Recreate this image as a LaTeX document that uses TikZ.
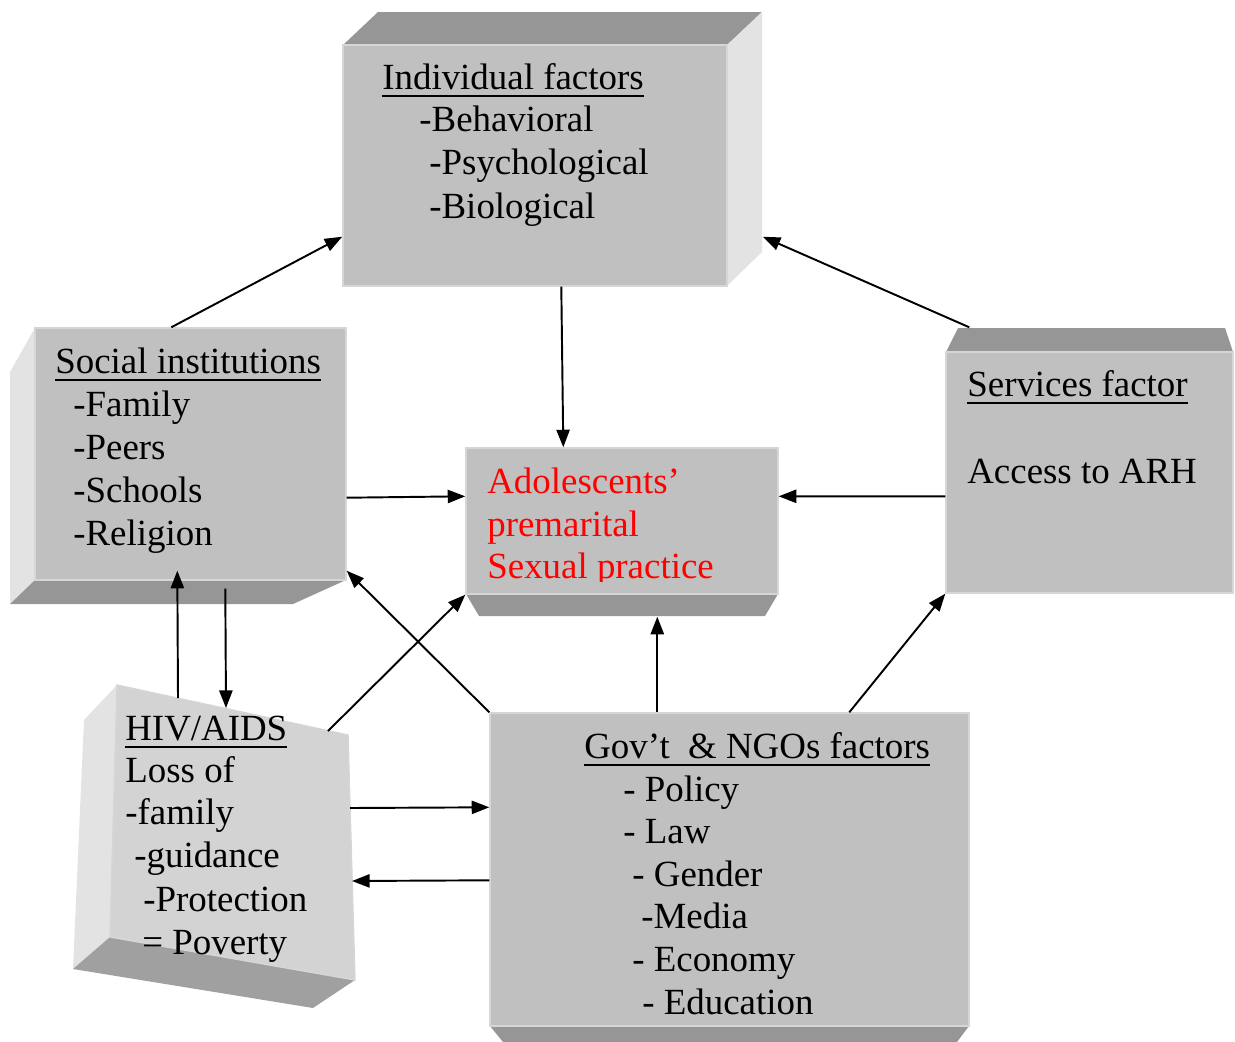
\documentclass[tikz,border=0pt]{standalone}
\usepackage{fontspec}
\setmainfont{Liberation Serif}
\usetikzlibrary{arrows.meta,fit,calc}
\definecolor{frontc}{HTML}{C0C0C0}
\definecolor{topc}{HTML}{969696}
\definecolor{sidec}{HTML}{E3E3E3}
\definecolor{hivfront}{HTML}{D3D3D3}
\definecolor{hivbot}{HTML}{A0A0A0}
\definecolor{edgec}{HTML}{D6D6D6}
\newcommand{\myul}[1]{\setbox0\hbox{#1}\rlap{\rule[-4.5pt]{\wd0}{1.1pt}}\box0}
\begin{document}
\begin{tikzpicture}[x=0.02cm,y=-0.02cm,
  txt/.style={anchor=base west, inner sep=0pt, font=\fontsize{21}{25}\selectfont},
  redtxt/.style={txt, text=red},
  arr/.style={line width=1.1pt, -{Triangle[length=10pt,width=7.5pt]}},
  frontface/.style={inner sep=0pt, fill=frontc, draw=edgec, line width=0.8pt},
  topface/.style={fill=topc},
  sideface/.style={fill=sidec}]
\useasboundingbox (0,0) rectangle (1235,1042);

% ---------- Individual factors box
\fill[topface] (343,45) -- (378,12) -- (762,12) -- (727,45) -- cycle;
\fill[sideface] (727,45) -- (762,12) -- (762,252) -- (727,286) -- cycle;
\path (343,45) coordinate (indA) (727,286) coordinate (indB);
\node[frontface, fit=(indA)(indB)] (ind) {};

% ---------- Social institutions box
\fill[sideface] (35,328) -- (10,372) -- (10,604) -- (35,580) -- cycle;
\fill[topface] (35,580) -- (346,580) -- (293,604) -- (10,604) -- cycle;
\path (35,328) coordinate (socA) (346,580) coordinate (socB);
\node[frontface, fit=(socA)(socB)] (soc) {};

% ---------- Services factor box
\fill[topface] (946,352) -- (958,328) -- (1225,328) -- (1233,352) -- cycle;
\path (946,352) coordinate (srvA) (1233,593) coordinate (srvB);
\node[frontface, fit=(srvA)(srvB)] (srv) {};

% ---------- Adolescents box
\fill[topface] (466,594) -- (479,616) -- (765,616) -- (778,594) -- cycle;
\path (466,448) coordinate (adoA) (778,594) coordinate (adoB);
\node[frontface, fit=(adoA)(adoB)] (ado) {};

% ---------- Gov't box
\fill[topface] (490,1026) -- (503,1042) -- (957,1042) -- (969,1026) -- cycle;
\path (490,713) coordinate (govA) (969,1026) coordinate (govB);
\node[frontface, fit=(govA)(govB)] (gov) {};

% ---------- HIV/AIDS box (skewed)
\fill[sideface] (117,685) -- (84,720) -- (73,969) -- (110,937) -- cycle;
\fill[hivbot] (110,937) -- (355,980) -- (313,1008) -- (73,969) -- cycle;
\fill[hivfront, draw=edgec, line width=0.8pt] (117,685) -- (348,735) -- (355,980) -- (110,937) -- cycle;
\coordinate (h1) at (178,698);
\coordinate (h2) at (226,708);
\coordinate (h3) at (328,731);
\coordinate (h4) at (350,808);
\coordinate (h5) at (352,881);

% ---------- Texts
\node[txt] (i1) at (382,89) {\myul{Individual factors}};
\node[txt] (i2) at (419,131) {-Behavioral};
\node[txt] (i3) at (429,174) {-Psychological};
\node[txt] (i4) at (429,218) {-Biological};

\node[txt] (s1) at (55,373) {\myul{Social institutions}};
\node[txt] (s2) at (73,416) {-Family};
\node[txt] (s3) at (73,459) {-Peers};
\node[txt] (s4) at (73,502) {-Schools};
\node[txt] (s5) at (73,545) {-Religion};

\node[txt] (v1) at (967,396) {\myul{Services factor}};
\node[txt] (v2) at (967,483) {Access to ARH};

\begin{scope}
\clip (466,448) rectangle (778,581);
\node[redtxt] (a1) at (487,493) {Adolescents’};
\node[redtxt] (a2) at (487,536) {premarital};
\node[redtxt] (a3) at (487,578) {Sexual practice};
\end{scope}

\node[txt] (x1) at (125,740) {\myul{HIV/AIDS}};
\node[txt] (x2) at (125,782) {Loss of};
\node[txt] (x3) at (125,824) {-family};
\node[txt] (x4) at (134,867) {-guidance};
\node[txt] (x5) at (143,911) {-Protection};
\node[txt] (x6) at (142,954) {= Poverty};

\node[txt] (g1) at (584,758) {\myul{Gov’t\ \ \& NGOs factors}};
\node[txt] (g2) at (623,801) {- Policy};
\node[txt] (g3) at (623,843) {- Law};
\node[txt] (g4) at (632,886) {- Gender};
\node[txt] (g5) at (641,928) {-Media};
\node[txt] (g6) at (632,971) {- Economy};
\node[txt] (g7) at (642,1014) {- Education};

% ---------- Arrows
\draw[arr] ($(soc.north west)+(137,0)$) -- ($(ind.south west)+(0,-50)$);
\draw[arr] ($(srv.north west)+(24,-24)$) -- ($(ind.south east)+(35,-50)$);
\draw[arr] ($(ind.south west)+(219,0)$) -- ($(ado.north west)+(98,0)$);
\draw[arr] ($(soc.south east)+(0,-83)$) -- ($(ado.north west)+(0,49)$);
\draw[arr] ($(srv.north west)+(0,145)$) -- ($(ado.north east)+(0,49)$);
\draw[arr] ($(gov.north west)+(168,0)$) -- ($(ado.south west)+(192,22)$);
\draw[arr] (h3) -- (ado.south west);
\draw[arr] (gov.north west) -- ($(soc.south east)+(0,-10)$);
\draw[arr] ($(gov.north west)+(360,0)$) -- (srv.south west);
\draw[arr] (h1) -- ($(soc.south west)+(143,-10)$);
\draw[arr] ($(soc.south west)+(191,8)$) -- (h2);
\draw[arr] (h4) -- ($(gov.north west)+(0,95)$);
\draw[arr] ($(gov.north west)+(0,168)$) -- (h5);
\end{tikzpicture}
\end{document}
